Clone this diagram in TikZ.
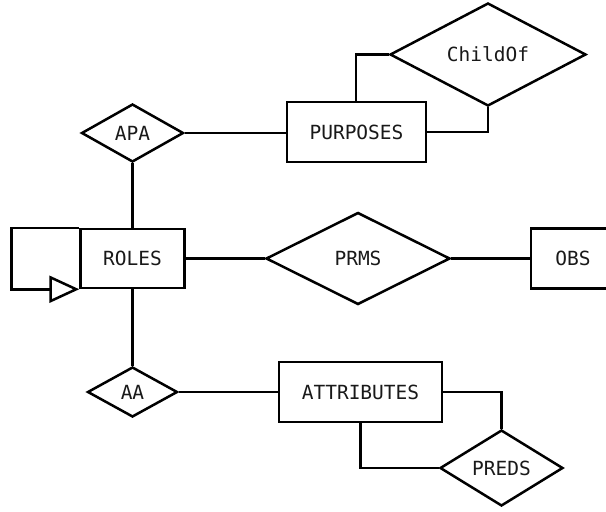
\documentclass[tikz,border=0pt]{standalone}
\usepackage{fontspec}
\setmonofont{DejaVu Sans Mono}
\usetikzlibrary{shapes.geometric,arrows.meta}
\begin{document}
\begin{tikzpicture}[x=1pt,y=-1pt,
  line width=2.5pt,
  every node/.style={font=\ttfamily\fontsize{19.5}{21}\selectfont, text=black!90, inner sep=0pt},
  entity/.style={draw, rectangle},
  relation/.style={draw, diamond},
  link/.style={draw, line join=miter}
]
\useasboundingbox (0,0) rectangle (606,512);
\clip (0,0) rectangle (606,512);

% entities
\node[entity, minimum width=104pt, minimum height=59pt] (roles) at (132.5,258.5) {ROLES};
\node[entity, minimum width=139pt, minimum height=60pt] (purposes) at (356.5,132) {PURPOSES};
\node[entity, minimum width=84pt, minimum height=60pt] (obs) at (573,258.5) {OBS};
\node[entity, minimum width=163pt, minimum height=60pt] (attributes) at (360.5,392) {ATTRIBUTES};

% relationships
\node[relation, minimum width=102pt, minimum height=58pt] (apa) at (132.5,133) {APA};
\node[relation, minimum width=196pt, minimum height=103pt] (childof) at (488,54.5) {ChildOf};
\node[relation, minimum width=184pt, minimum height=92pt] (prms) at (358,258.5) {PRMS};
\node[relation, minimum width=90pt, minimum height=50pt] (aa) at (132.5,392) {AA};
\node[relation, minimum width=123pt, minimum height=76pt] (preds) at (501.5,468) {PREDS};

% connectors
\draw[link] (apa.east) -- (purposes.west |- apa.east);
\draw[link] (apa.south) -- (roles.north);
\draw[link] (roles.south) -- (aa.north);
\draw[link] (roles.east) -- (prms.west);
\draw[link] (prms.east) -- (obs.west);
\draw[link] (aa.east) -- (attributes.west);

% ChildOf: recursive on PURPOSES
\draw[link] ([xshift=-0.5pt]purposes.north) |- (childof.west);
\draw[link] (purposes.east) -| (childof.south);

% PREDS: recursive on ATTRIBUTES
\draw[link] (attributes.east) -| (preds.north);
\draw[link] (attributes.south) |- (preds.west);

% ROLES hierarchy loop with open triangle head
\coordinate (loopTop) at ([xshift=-68pt]roles.north west);
\draw[link, -{Triangle[open, length=30pt 0 0, width=27pt 0 0, fill=white]}]
  (roles.north west) -- (loopTop) |- (roles.south west);
\end{tikzpicture}
\end{document}
